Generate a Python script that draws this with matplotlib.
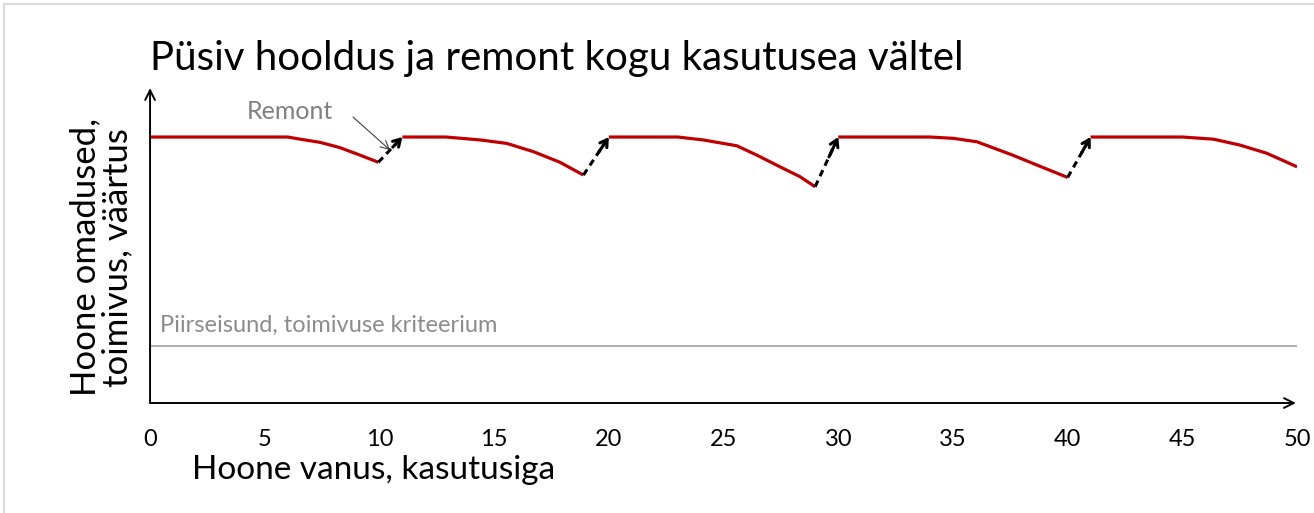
import matplotlib.pyplot as plt
from matplotlib.lines import Line2D

plt.rcParams['font.family'] = ['Lato', 'DejaVu Sans']

# condition curve, one segment per repair cycle (age in years, condition level)
x1 = [0, 6.0, 6.54, 7.41, 8.28, 9.15, 9.95]
y1 = [100, 100, 99.2, 98.0, 96.0, 93.2, 90.5]
x2 = [11, 12.9, 14.39, 15.55, 16.71, 17.87, 18.89]
y2 = [100, 100, 98.9, 97.6, 94.5, 90.5, 85.7]
x3 = [20, 23.0, 24.12, 25.58, 26.45, 27.46, 28.33, 28.99]
y3 = [100, 100, 98.9, 96.7, 93.2, 88.8, 85.1, 81.3]
x4 = [30, 34.0, 35.02, 36.05, 37.6, 38.65, 40]
y4 = [100, 100, 99.5, 98.2, 93.2, 89.5, 84.8]
x5 = [41, 45.0, 46.35, 47.5, 48.68, 50]
y5 = [100, 100, 99.2, 97.0, 93.9, 88.8]
segments = [(x1, y1), (x2, y2), (x3, y3), (x4, y4), (x5, y5)]

limit_level = 21.4
xticks = [0, 5, 10, 15, 20, 25, 30, 35, 40, 45, 50]

fig = plt.figure(figsize=(13.14, 5.13), dpi=100)
ax = fig.add_axes([0.1142, 0.2144, 0.8729, 0.6222])
ax.set_xlim(0, 50)
ax.set_ylim(0, 120)
for s in ax.spines.values():
    s.set_visible(False)

red = '#C00000'
for sx, sy in segments:
    ax.plot(sx, sy, color=red, lw=2.3, solid_capstyle='butt',
            solid_joinstyle='round', zorder=3)

# repair arrows (dashed jump from end of one cycle to start of next)
for i in range(len(segments) - 1):
    x0, y0 = segments[i][0][-1], segments[i][1][-1]
    xe, ye = segments[i + 1][0][0], segments[i + 1][1][0]
    ax.plot([x0, x0 + (xe - x0) * 0.85], [y0, y0 + (ye - y0) * 0.85],
            color='black', lw=2.2, ls=(0, (2.2, 1.6)), zorder=4)
    ax.annotate('', xy=(xe, ye), xytext=(x0 + (xe - x0) * 0.6, y0 + (ye - y0) * 0.6),
                arrowprops=dict(arrowstyle='->,head_length=0.5,head_width=0.3',
                                lw=2.2, color='black', shrinkA=0, shrinkB=0),
                zorder=4)

# threshold
ax.plot([0, 50], [limit_level, limit_level], color='#A6A6A6', lw=1.3, zorder=2)
ax.text(0.42, limit_level + 4.0, 'Piirseisund, toimivuse kriteerium',
        color='#8C8C8C', fontsize=17, va='bottom', ha='left')

# Remont label
ax.text(6.1, 109.5, 'Remont', color='#808080', fontsize=18, ha='center', va='center')
ax.annotate('', xy=(10.46, 95.1), xytext=(8.85, 107.5),
            arrowprops=dict(arrowstyle='->,head_length=0.6,head_width=0.3',
                            lw=0.8, color='#404040', shrinkA=0, shrinkB=0))

# axes with arrow heads
ax.annotate('', xy=(0, 118.4), xytext=(0, 0),
            arrowprops=dict(arrowstyle='->,head_length=0.7,head_width=0.35',
                            lw=1.4, color='black', shrinkA=0, shrinkB=0),
            annotation_clip=False)
ax.annotate('', xy=(49.95, 0), xytext=(0, 0),
            arrowprops=dict(arrowstyle='->,head_length=0.7,head_width=0.35',
                            lw=1.4, color='black', shrinkA=0, shrinkB=0),
            annotation_clip=False)

ax.set_xticks(xticks)
ax.set_xticklabels([str(t) for t in xticks], fontsize=17)
ax.tick_params(axis='x', length=0, pad=19)
ax.set_yticks([])

ax.set_xlabel('Hoone vanus, kasutusiga', fontsize=24)
ax.xaxis.set_label_coords(0.195, -0.163)
ax.set_ylabel('Hoone omadused,\ntoimivus, väärtus', fontsize=25, linespacing=1.0)
ax.yaxis.set_label_coords(-0.015, 0.457)

fig.text(0.1142, 0.885, 'Püsiv hooldus ja remont kogu kasutusea vältel',
         fontsize=29, ha='left', va='center')

# light frame around the chart area
fig.add_artist(Line2D([0.003, 0.003], [0, 0.993], color='#D9D9D9', lw=1.5))
fig.add_artist(Line2D([0.003, 1], [0.993, 0.993], color='#D9D9D9', lw=1.5))

fig.savefig('out.png', dpi=100)
